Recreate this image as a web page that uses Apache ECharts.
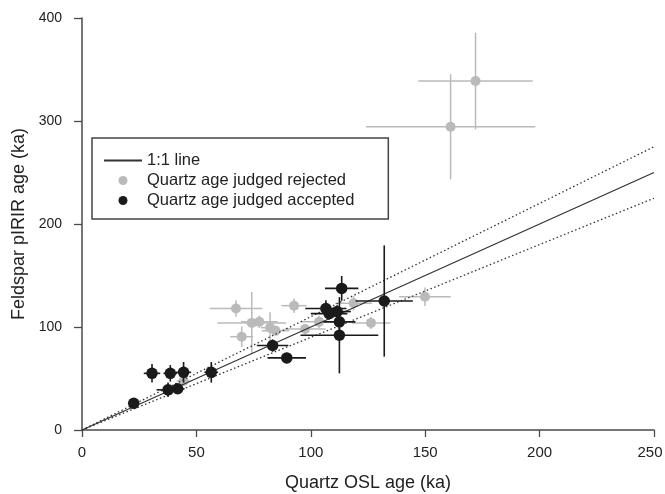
<!DOCTYPE html>
<html>
<head>
<meta charset="utf-8">
<script src="https://cdn.jsdelivr.net/npm/echarts@6/dist/echarts.min.js"></script>
<style>
  html, body { margin: 0; padding: 0; background: #fff; }
  #chart { width: 665px; height: 494px; }
</style>
</head>
<body>
<div id="chart"></div>
<script>
// rejected quartz ages: [quartz OSL age, feldspar pIRIR age, x error, y error]
const rejected = [
  [44.4, 47.6, 3, 5],
  [67.3, 118, 11.5, 8],
  [69.8, 90.6, 5, 10],
  [74.2, 104, 15, 30],
  [77.5, 105, 8, 6],
  [82.2, 99.3, 4, 15],
  [84.6, 96.4, 6, 5],
  [92.7, 120.7, 5.5, 7],
  [97.5, 98, 9, 5],
  [103.6, 105, 8, 6],
  [118.7, 123, 8, 7],
  [126.3, 104, 8.4, 6],
  [149.9, 129.4, 11.3, 9],
  [161.1, 294.5, 37, 51],
  [172, 338.8, 25, 47]
];
// accepted quartz ages
const accepted = [
  [22.6, 25.9, 2, 5],
  [30.6, 55, 3.6, 9],
  [38.6, 55, 3, 8],
  [44.4, 56, 3.3, 10],
  [37.6, 39, 5, 7],
  [41.8, 40, 3, 5],
  [56.5, 56, 3, 10],
  [83.3, 82, 6.9, 6],
  [89.5, 70, 8.4, 5],
  [106.6, 118, 9, 8],
  [108, 113, 8, 6],
  [111.5, 115, 6, 6],
  [112.5, 105, 7, 8],
  [112.5, 92, 17, 37],
  [113.5, 137.5, 7.3, 12],
  [132.1, 125.2, 12.5, 54]
];
// reference lines
const oneToOne = [[0, 0], [250, 250]];
const upper10 = [[0, 0], [250, 275]];
const lower10 = [[0, 0], [250, 225]];

const xTicks = [0, 50, 100, 150, 200, 250];
const yTicks = [0, 100, 200, 300, 400];

const GREY = '#bababa';
const BLACK = '#1a1a1a';
const FONT = '"Liberation Sans", Arial, sans-serif';

// error bars drawn as a custom series
function errorBars(color, width) {
  return function (params, api) {
    const x = api.value(0), y = api.value(1), dx = api.value(2), dy = api.value(3);
    const l = api.coord([x - dx, y]), r = api.coord([x + dx, y]);
    const b = api.coord([x, y - dy]), t = api.coord([x, y + dy]);
    const style = { stroke: color, lineWidth: width };
    return {
      type: 'group',
      children: [
        { type: 'line', shape: { x1: l[0], y1: l[1], x2: r[0], y2: r[1] }, style: style },
        { type: 'line', shape: { x1: b[0], y1: b[1], x2: t[0], y2: t[1] }, style: style }
      ]
    };
  };
}

const chart = echarts.init(document.getElementById('chart'));

const axisCommon = {
  type: 'value',
  nameLocation: 'middle',
  nameTextStyle: { fontFamily: FONT, fontSize: 18, color: '#222' },
  axisLine: { show: true, lineStyle: { color: '#4a4a4a', width: 1.5 } },
  axisTick: { show: true, inside: false, lineStyle: { color: '#4a4a4a', width: 1.3 } },
  axisLabel: { fontFamily: FONT, fontSize: 14, color: '#222' },
  splitLine: { show: false }
};

const xMax = xTicks[xTicks.length - 1];

const option = {
  animation: false,
  backgroundColor: '#fff',
  grid: { left: 82, right: 11, top: 18, bottom: 64, containLabel: false, outerBoundsMode: 'none' },
  xAxis: Object.assign({}, axisCommon, {
    name: 'Quartz OSL age (ka)',
    nameGap: 44,
    min: xTicks[0], max: xMax, interval: 50,
    axisTick: Object.assign({}, axisCommon.axisTick, { length: 7 }),
    axisLabel: Object.assign({}, axisCommon.axisLabel, {
      fontSize: 15, margin: 15,
      // last label nudged left so it stays inside the page
      formatter: v => v === xMax ? '{last|' + v + '}' : String(v),
      rich: { last: { fontFamily: FONT, fontSize: 15, color: '#222', padding: [0, 8, 0, 0] } }
    })
  }),
  yAxis: Object.assign({}, axisCommon, {
    name: 'Feldspar pIRIR age (ka)',
    nameGap: 52,
    min: yTicks[0], max: yTicks[yTicks.length - 1], interval: 100,
    axisTick: Object.assign({}, axisCommon.axisTick, { length: 8 }),
    axisLabel: Object.assign({}, axisCommon.axisLabel, { margin: 20 })
  }),
  legend: {
    orient: 'vertical',
    left: 92, top: 138,
    padding: [14, 34, 10, 11],
    borderColor: '#444', borderWidth: 1.5,
    itemWidth: 38, itemHeight: 9, itemGap: 3,
    textStyle: { fontFamily: FONT, fontSize: 16.5, color: '#222' },
    data: [
      { name: '1:1 line', itemStyle: { opacity: 0 } },
      'Quartz age judged rejected',
      'Quartz age judged accepted'
    ]
  },
  series: [
    { name: 'rejected bars', type: 'custom', renderItem: errorBars(GREY, 1.5), data: rejected, encode: { x: 0, y: 1 }, z: 2 },
    { name: 'Quartz age judged rejected', type: 'scatter', data: rejected, symbolSize: 10, itemStyle: { color: GREY, opacity: 1 }, z: 3 },
    { name: '1:1 line', type: 'line', data: oneToOne, symbol: 'none', lineStyle: { color: '#333', width: 1.3 }, z: 4 },
    { name: 'upper', type: 'line', data: upper10, symbol: 'none', lineStyle: { color: '#333', width: 1.3, type: [1.5, 2.5] }, z: 4 },
    { name: 'lower', type: 'line', data: lower10, symbol: 'none', lineStyle: { color: '#333', width: 1.3, type: [1.5, 2.5] }, z: 4 },
    { name: 'accepted bars', type: 'custom', renderItem: errorBars(BLACK, 1.6), data: accepted, encode: { x: 0, y: 1 }, z: 5 },
    { name: 'Quartz age judged accepted', type: 'scatter', data: accepted, symbolSize: 11.5, itemStyle: { color: BLACK, opacity: 1 }, z: 6 }
  ]
};

chart.setOption(option);
</script>
</body>
</html>
